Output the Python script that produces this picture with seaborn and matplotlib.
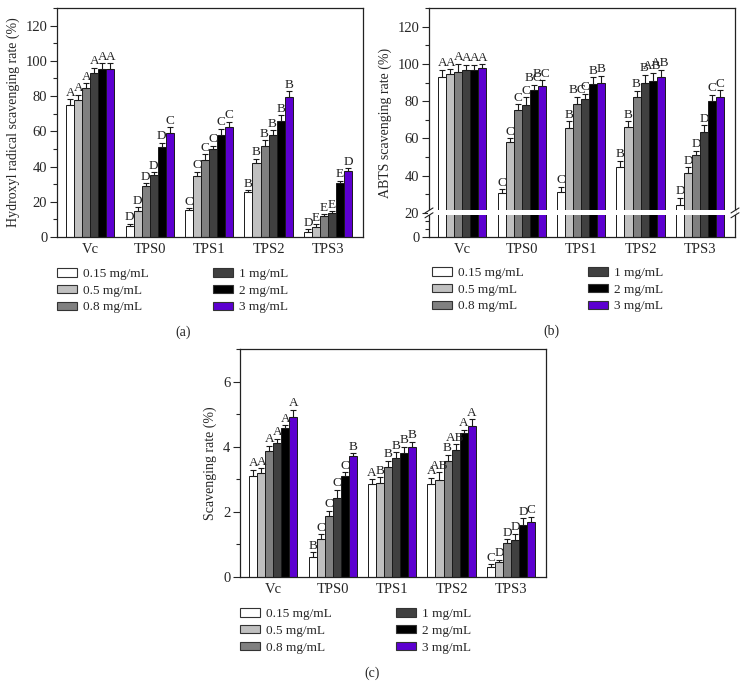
import numpy as np
import pandas as pd
import matplotlib
matplotlib.use("Agg")
import matplotlib.pyplot as plt
import seaborn as sns
from matplotlib.patches import Patch, Rectangle
from matplotlib.lines import Line2D
from matplotlib.ticker import FixedLocator

groups = ["Vc", "TPS0", "TPS1", "TPS2", "TPS3"]
concs = ["0.15 mg/mL", "0.5 mg/mL", "0.8 mg/mL", "1 mg/mL", "2 mg/mL", "3 mg/mL"]
colors = ["#ffffff", "#c0c0c0", "#808080", "#404040", "#000000", "#5c00d0"]

# (a) hydroxyl radical scavenging, rows = groups, columns = concentrations
a_mean = [[75, 78, 84.5, 93, 95.5, 95.5],
          [6, 15, 29, 35, 51, 59],
          [15.5, 34.5, 43.5, 50, 58, 62.5],
          [25.5, 42, 51.5, 58, 66, 79.5],
          [3, 5.5, 12, 13.5, 30.5, 37.5]]
a_err = [[3.2, 2.8, 2.8, 3, 3.2, 3],
         [1.5, 2, 1.7, 1.7, 2.5, 3.4],
         [1, 2.5, 3.4, 1.9, 3.4, 3],
         [1.1, 2.5, 3.4, 2.7, 3.2, 3.4],
         [1.5, 1.7, 1, 1.1, 1.5, 1.7]]
a_sig = [["A", "A", "A", "A", "A", "A"],
         ["D", "D", "D", "D", "D", "C"],
         ["C", "C", "C", "C", "C", "C"],
         ["B", "B", "B", "B", "B", "B"],
         ["D", "E", "E", "E", "E", "D"]]

# (b) ABTS scavenging
b_mean = [[93, 94.6, 95.7, 96.6, 96.8, 97.7],
          [30.5, 58, 75.4, 78, 86, 88.2],
          [31, 65.5, 78.4, 81, 89.3, 90],
          [44.5, 66.2, 82, 90, 91, 93.2],
          [24.5, 41.4, 51.2, 63.6, 80.2, 82.1]]
b_err = [[3.9, 2.5, 4.5, 2.9, 2.7, 2.1],
         [2.3, 2.1, 3, 4.1, 2.9, 3.2],
         [3.2, 3.6, 4.1, 2.9, 3.6, 3.6],
         [3.6, 3, 3.6, 4.1, 4.3, 3.6],
         [3.6, 3.2, 2.3, 3.4, 3.2, 3.9]]
b_sig = [["A", "A", "A", "A", "A", "A"],
         ["C", "C", "C", "C", "BC", "BC"],
         ["C", "B", "BC", "C", "B", "B"],
         ["B", "B", "B", "B", "AB", "AB"],
         ["D", "D", "D", "D", "C", "C"]]

# (c) scavenging rate
c_mean = [[3.11, 3.19, 3.87, 4.11, 4.56, 4.92],
          [0.62, 1.18, 1.88, 2.43, 3.1, 3.7],
          [2.85, 2.88, 3.38, 3.66, 3.82, 3.98],
          [2.87, 2.99, 3.55, 3.89, 4.41, 4.65],
          [0.3, 0.45, 1.04, 1.15, 1.6, 1.7]]
c_err = [[0.18, 0.15, 0.16, 0.13, 0.1, 0.21],
         [0.14, 0.14, 0.16, 0.25, 0.12, 0.1],
         [0.15, 0.18, 0.19, 0.17, 0.18, 0.18],
         [0.18, 0.22, 0.2, 0.19, 0.11, 0.2],
         [0.1, 0.08, 0.12, 0.18, 0.2, 0.15]]
c_sig = [["A", "A", "A", "A", "A", "A"],
         ["B", "C", "C", "C", "C", "B"],
         ["A", "B", "B", "B", "B", "B"],
         ["A", "AB", "B", "AB", "A", "A"],
         ["C", "D", "D", "D", "D", "C"]]

sns.set_style("ticks")
plt.rcParams["font.family"] = ["Liberation Serif", "DejaVu Serif"]

W, H = 748, 700
fig = plt.figure(figsize=(W / 100, H / 100), dpi=100)


def box(l, t, r, b):
    return [l / W, 1 - b / H, (r - l) / W, (b - t) / H]


def draw_panel(ax, means, errs, sigs, ylabel):
    df = pd.DataFrame({"group": np.repeat(groups, len(concs)),
                       "conc": concs * len(groups),
                       "value": np.ravel(means)})
    sns.barplot(data=df, x="group", y="value", hue="conc", order=groups,
                hue_order=concs, palette=colors, saturation=1, width=0.81,
                errorbar=None, edgecolor="#1a1a1a", linewidth=0.7,
                legend=False, ax=ax)
    bar_sets = list(ax.containers)
    for i, cont in enumerate(bar_sets):
        for j, bar in enumerate(cont.patches):
            x = bar.get_x() + bar.get_width() / 2
            top = bar.get_height()
            e = errs[j][i]
            ax.errorbar(x, top, yerr=[[0], [e]], fmt="none", ecolor="#1a1a1a",
                        elinewidth=0.8, capsize=2.2, capthick=0.8, zorder=3)
            ax.annotate(sigs[j][i], (x, top + e), xytext=(0, 0.3),
                        textcoords="offset points", ha="center", va="bottom",
                        fontsize=9.5, color="#222222")
    ax.set_xlim(-0.56, 4.59)
    ax.set_xlabel("")
    ax.set_ylabel(ylabel, fontsize=10)
    ax.tick_params(axis="x", length=0, pad=4, labelsize=10.5)
    ax.tick_params(axis="y", which="major", direction="out", length=5,
                   width=0.8, pad=2, labelsize=10.5)
    ax.tick_params(axis="y", which="minor", direction="out", length=3, width=0.8)
    for s in ax.spines.values():
        s.set_visible(True)
        s.set_linewidth(0.9)
        s.set_color("#222222")


def add_legend(x, y):
    handles = [Patch(facecolor=c, edgecolor="#333333", linewidth=0.8) for c in colors]
    fig.legend(handles, concs, ncol=2, loc="upper left",
               bbox_to_anchor=(x / W, 1 - y / H), frameon=False, fontsize=9.5,
               handlelength=1.5, handleheight=0.62, handletextpad=0.45,
               columnspacing=4.9, labelspacing=0.36, borderpad=0, borderaxespad=0)


# panel (a)
ax_a = fig.add_axes(box(57, 8, 363, 237))
draw_panel(ax_a, a_mean, a_err, a_sig, "Hydroxyl radical scavenging rate (%)")
ax_a.set_ylim(0, 130)
ax_a.yaxis.set_major_locator(FixedLocator([0, 20, 40, 60, 80, 100, 120]))
ax_a.yaxis.set_minor_locator(FixedLocator([10, 30, 50, 70, 90, 110, 130]))

# panel (b) with broken axis at 20
k = 0.645


def fwd(y):
    y = np.asarray(y, dtype=float)
    return np.where(y <= 20, y * k, 20 * k + (y - 20))


def inv(t):
    t = np.asarray(t, dtype=float)
    return np.where(t <= 20 * k, t / k, t - 20 * k + 20)


ax_b = fig.add_axes(box(429, 8, 735, 237))
draw_panel(ax_b, b_mean, b_err, b_sig, "ABTS scavenging rate (%)")
ax_b.set_yscale("function", functions=(fwd, inv))
ax_b.set_ylim(0, 130)
ax_b.yaxis.set_major_locator(FixedLocator([0, 20, 40, 60, 80, 100, 120]))
ax_b.yaxis.set_minor_locator(FixedLocator([20 / 3, 40 / 3, 30, 50, 70, 90, 110, 130]))
ax_b.yaxis.set_major_formatter(plt.FuncFormatter(lambda v, p: f"{v:.0f}"))
ax_b.yaxis.set_minor_formatter(plt.NullFormatter())

# panel (c)
ax_c = fig.add_axes(box(240, 349, 546, 577))
draw_panel(ax_c, c_mean, c_err, c_sig, "Scavenging rate (%)")
ax_c.set_ylim(0, 7)
ax_c.yaxis.set_major_locator(FixedLocator([0, 2, 4, 6]))
ax_c.yaxis.set_minor_locator(FixedLocator([1, 3, 5, 7]))

# break marks on panel (b)
fig.canvas.draw()
inv_fig = fig.transFigure.inverted()
yb = ax_b.transData.transform((0, 20))[1]
xl = ax_b.transAxes.transform((0, 0))[0]
xr = ax_b.transAxes.transform((1, 0))[0]
(bx0, by0) = inv_fig.transform((xl - 0.5, yb - 2.3))
(bx1, by1) = inv_fig.transform((xr + 0.5, yb + 2.5))
fig.add_artist(Rectangle((bx0, by0), bx1 - bx0, by1 - by0, facecolor="white",
                         edgecolor="none", transform=fig.transFigure, zorder=5))
for xs in (xl, xr):
    for ys in (yb - 2.3, yb + 2.5):
        p0 = inv_fig.transform((xs - 4, ys - 2.5))
        p1 = inv_fig.transform((xs + 4, ys + 2.5))
        fig.add_artist(Line2D([p0[0], p1[0]], [p0[1], p1[1]], color="#222222",
                              linewidth=0.8, transform=fig.transFigure, zorder=6))

add_legend(57, 268)
add_legend(432, 267)
add_legend(240, 608)

fig.text(183 / W, 1 - 332 / H, "(a)", ha="center", va="center", fontsize=10)
fig.text(551 / W, 1 - 331 / H, "(b)", ha="center", va="center", fontsize=10)
fig.text(372 / W, 1 - 673 / H, "(c)", ha="center", va="center", fontsize=10)

fig.savefig("out.png", dpi=100)
